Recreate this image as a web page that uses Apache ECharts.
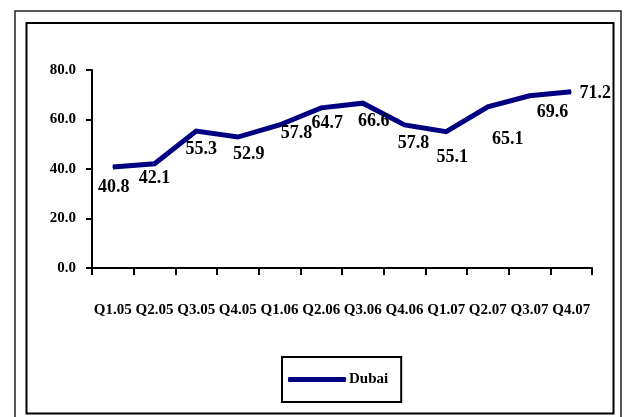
<!DOCTYPE html>
<html>
<head>
<meta charset="utf-8">
<script src="https://cdn.jsdelivr.net/npm/echarts@6/dist/echarts.min.js"></script>
<style>
  html, body { margin: 0; padding: 0; background: #fff; }
  #chart { width: 626px; height: 417px; }
</style>
</head>
<body>
<div id="chart"></div>
<script>
// Quarterly series for Dubai, Q1 2005 – Q4 2007
const quarters = ['Q1.05', 'Q2.05', 'Q3.05', 'Q4.05', 'Q1.06', 'Q2.06',
                  'Q3.06', 'Q4.06', 'Q1.07', 'Q2.07', 'Q3.07', 'Q4.07'];
const dubai = [40.8, 42.1, 55.3, 52.9, 57.8, 64.7, 66.6, 57.8, 55.1, 65.1, 69.6, 71.2];
const yTicks = [0, 20, 40, 60, 80];
const seriesName = 'Dubai';

// Label nudges (pixels) relative to each point, so the numbers sit clear of the line
const labelShift = [
  [1, 20], [0, 15], [5, 18], [11, 17], [17, 8], [6, 15],
  [11, 18], [9, 18], [6, 26], [20, 32], [23, 17], [24, 2]
];

const FONT = '"Liberation Serif", "Times New Roman", serif';
const NAVY = '#000080';

const chart = echarts.init(document.getElementById('chart'), null, { renderer: 'canvas' });

chart.setOption({
  animation: false,
  backgroundColor: '#fff',
  grid: { left: 92, top: 70, width: 500, height: 198 },
  xAxis: {
    type: 'category',
    data: quarters,
    boundaryGap: true,
    axisLine: { lineStyle: { color: '#000', width: 2 } },
    axisTick: { show: true, length: 7, alignWithLabel: false, interval: 0,
                lineStyle: { color: '#000', width: 2 } },
    axisLabel: { interval: 0, margin: 35, color: '#000', fontFamily: FONT,
                 fontWeight: 'bold', fontSize: 15 },
    splitLine: { show: false }
  },
  yAxis: {
    type: 'value',
    min: yTicks[0],
    max: yTicks[yTicks.length - 1],
    interval: yTicks[1] - yTicks[0],
    axisLine: { show: true, lineStyle: { color: '#000', width: 2 } },
    axisTick: { show: true, length: 6, lineStyle: { color: '#000', width: 2 } },
    axisLabel: { margin: 16, color: '#000', fontFamily: FONT, fontWeight: 'bold',
                 fontSize: 15, formatter: v => v.toFixed(1) },
    splitLine: { show: false }
  },
  legend: {
    data: [seriesName],
    left: 282,
    top: 357,
    orient: 'horizontal',
    padding: [15, 13, 15, 6],
    borderColor: '#000',
    borderWidth: 2,
    icon: 'roundRect',
    itemWidth: 58,
    itemHeight: 5,
    textStyle: { color: '#000', fontFamily: FONT, fontWeight: 'bold', fontSize: 15,
                 padding: [0, 0, 0, -2] }
  },
  series: [{
    name: seriesName,
    type: 'line',
    data: dubai.map((v, i) => ({
      value: v,
      label: { offset: labelShift[i] }
    })),
    color: NAVY,
    symbol: 'circle',
    symbolSize: 1,
    showSymbol: true,
    lineStyle: { color: NAVY, width: 5, join: 'miter' },
    itemStyle: { color: NAVY },
    label: {
      show: true,
      position: 'inside',
      color: '#000',
      fontFamily: FONT,
      fontWeight: 'bold',
      fontSize: 18,
      formatter: p => p.value.toFixed(1)
    }
  }],
  graphic: [
    { type: 'rect', silent: true, z: -1,
      shape: { x: 15, y: 11, width: 606, height: 420 },
      style: { fill: null, stroke: '#222', lineWidth: 1.5 } },
    { type: 'rect', silent: true, z: -1,
      shape: { x: 26.5, y: 23, width: 587, height: 390.5 },
      style: { fill: null, stroke: '#000', lineWidth: 2 } }
  ]
});
</script>
</body>
</html>
